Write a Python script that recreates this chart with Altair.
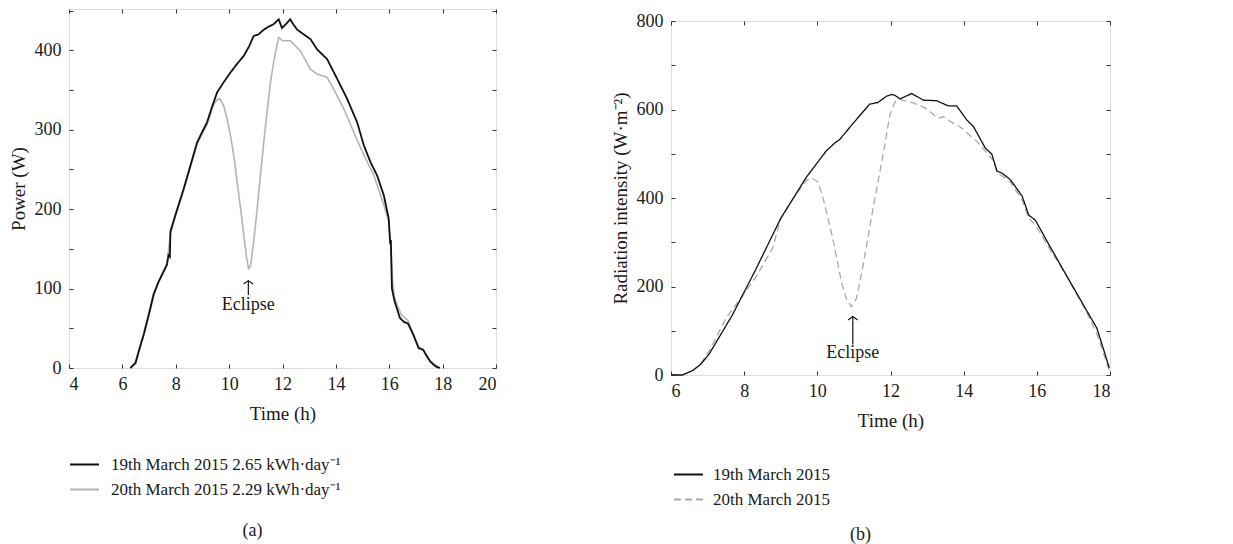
import altair as alt
import pandas as pd

FONT = "Liberation Serif"
TXT = "#1a1a1a"

# ---------------- Panel (a): PV power ----------------
a_series = ["19th March 2015 2.65 kWh·day⁻¹", "20th March 2015 2.29 kWh·day⁻¹"]
a_colors = ["#111111", "#b4b4b4"]

a19_t = [6.30, 6.49, 6.65, 6.80, 7.00, 7.17, 7.35, 7.48, 7.60, 7.67, 7.73, 7.78, 7.80, 7.98, 8.15,
         8.30, 8.55, 8.80, 9.00, 9.17, 9.35, 9.55, 9.80, 10.05, 10.30, 10.55, 10.75, 10.92, 11.10,
         11.30, 11.50, 11.67, 11.86, 11.98, 12.10, 12.29, 12.40, 12.55, 12.80, 13.05, 13.30, 13.67,
         14.05, 14.42, 14.80, 15.05, 15.30, 15.55, 15.80, 15.98, 16.03, 16.06, 16.10, 16.20, 16.40,
         16.55, 16.70, 16.90, 17.10, 17.27, 17.40, 17.54, 17.70, 17.80, 17.90]
a19_v = [0, 6, 25, 42, 68, 92, 108, 117, 125, 130, 142, 140, 172, 192, 210,
         226, 255, 284, 298, 309, 328, 347, 360, 372, 383, 393, 405, 418, 420,
         426, 430, 433, 439, 428, 432, 439, 433, 426, 420, 414, 401, 389,
         364, 339, 309, 280, 259, 242, 217, 188, 159, 161, 100, 84, 63,
         58, 56, 42, 25, 23, 15, 8, 3, 1, 0]

a20_t = [6.30, 6.49, 6.80, 7.17, 7.48, 7.67, 7.80, 7.98, 8.30, 8.80, 9.17, 9.40, 9.55, 9.65, 9.80,
         9.95, 10.05, 10.20, 10.30, 10.45, 10.55, 10.65, 10.73, 10.80, 10.92, 11.05, 11.17, 11.30,
         11.42, 11.55, 11.67, 11.78, 11.86, 12.00, 12.30, 12.67, 13.05, 13.30, 13.67, 13.92, 14.30,
         14.67, 15.05, 15.42, 15.80, 15.98, 16.05, 16.12, 16.20, 16.45, 16.70, 16.90, 17.10, 17.27,
         17.54, 17.80, 17.90]
a20_v = [0, 8, 44, 95, 118, 132, 168, 190, 224, 282, 306, 330, 338, 339, 330,
         310, 293, 262, 234, 195, 167, 140, 125, 128, 159, 200, 242, 285,
         322, 360, 385, 405, 416, 412, 412, 399, 376, 370, 366, 351, 326,
         297, 268, 243, 205, 185, 160, 110, 88, 67, 60, 43, 27, 23,
         9, 2, 0]

# ---------------- Panel (b): radiation intensity ----------------
b_series = ["19th March 2015", "20th March 2015"]
b_colors = ["#111111", "#9fb0a0"]

b19_t = [6.0, 6.31, 6.59, 6.81, 7.04, 7.68, 8.32, 9.0, 9.7, 10.24, 10.47, 10.61, 10.98, 11.43, 11.66,
         11.89, 12.03, 12.12, 12.26, 12.58, 12.9, 13.26, 13.58, 13.81, 14.09, 14.27, 14.59, 14.77,
         14.91, 15.05, 15.28, 15.6, 15.78, 15.96, 16.28, 16.83, 17.38, 17.64, 17.84, 17.98]
b19_v = [0, 0, 10, 24, 47, 136, 239, 354, 447, 506, 524, 532, 569, 612, 616,
         630, 634, 632, 624, 636, 621, 620, 608, 608, 576, 561, 513, 499,
         461, 456, 441, 404, 361, 350, 302, 222, 143, 106, 54, 16]

b20_t = [6.0, 6.31, 6.55, 6.77, 7.04, 7.5, 7.96, 8.32, 8.78, 9.0, 9.35, 9.7, 9.85, 10.02, 10.15,
         10.43, 10.66, 10.79, 10.93, 11.07, 11.25, 11.53, 11.8, 11.98, 12.12, 12.26, 12.62, 12.94,
         13.31, 13.45, 13.63, 13.9, 14.36, 14.82, 14.91, 15.28, 15.6, 15.78, 15.96, 16.28, 16.83,
         17.38, 17.65, 17.98]
b20_v = [0, 0, 8, 21, 54, 128, 180, 221, 287, 354, 400, 440, 445, 436, 402,
         306, 210, 173, 154, 173, 247, 380, 499, 587, 617, 623, 615, 604,
         580, 584, 573, 561, 528, 484, 458, 436, 395, 354, 339, 295, 221,
         139, 91, 10]

# annotations: arrow x, arrow base y, arrow tip y, text y
a_eclipse = {"x": [10.72], "y0": [92], "y1": [110], "ty": [79], "label": ["Eclipse"]}
b_eclipse = {"x": [10.97], "y0": [69], "y1": [132], "ty": [50], "label": ["Eclipse"]}

ARROW = "M-1,0.7L0,0L1,0.7"


def axis_main(orient, values, title, label_pad, title_pad, show_every=None):
    kw = dict(orient=orient, values=values, title=title, domain=False, grid=False,
              tickSize=4, offset=-4, tickColor="#333", tickWidth=1,
              labelFont=FONT, labelFontSize=18, labelColor=TXT, labelPadding=label_pad,
              titleFont=FONT, titleFontSize=19, titleFontWeight="normal", titleColor=TXT,
              titlePadding=title_pad)
    if show_every:
        test = f"datum.value % {show_every} != 0"
        kw["labelExpr"] = f"{test} ? '' : datum.label"
        kw["labelFontSize"] = {"condition": {"test": test, "value": 0}, "value": 18}
    return alt.Axis(**kw)


def axis_mirror(orient, values):
    return alt.Axis(orient=orient, values=values, title=None, labels=False, domain=False,
                    grid=False, tickSize=4, offset=-4, tickColor="#333", tickWidth=1)


def panel(t_lists, v_lists, series, colors, dashes, widths, xdom, ydom, xvals, yvals,
          ylabel_every, ytitle, ann, legend_x, legend_y, label_offset, w, h, title, title_dx,
          title_off):
    frames = []
    for t, v, s in zip(t_lists, v_lists, series):
        frames.append(pd.DataFrame({"t": t, "v": v, "series": s}))
    xs = alt.Scale(domain=xdom, nice=False, zero=False)
    ys = alt.Scale(domain=ydom, nice=False, zero=False)
    cs = alt.Scale(domain=series, range=colors)
    ds = alt.Scale(domain=series, range=dashes)
    legend = alt.Legend(orient="none", legendX=legend_x, legendY=legend_y, title=None,
                        labelFont=FONT, labelFontSize=17, labelColor=TXT, symbolType="stroke",
                        symbolSize=841, symbolStrokeWidth=1.8, labelOffset=label_offset,
                        rowPadding=1, padding=0, direction="vertical", labelLimit=0)
    layers = []
    order = [1, 0]
    for k, i in enumerate(order):
        first = (k == 0)
        layers.append(
            alt.Chart(frames[i]).mark_line(strokeWidth=widths[i]).encode(
                x=alt.X("t:Q", scale=xs,
                        axis=axis_main("bottom", xvals, "Time (h)", 7, 11) if first else None),
                y=alt.Y("v:Q", scale=ys,
                        axis=axis_main("left", yvals, ytitle, 8, 6, ylabel_every) if first else None),
                color=alt.Color("series:N", scale=cs, legend=legend),
                strokeDash=alt.StrokeDash("series:N", scale=ds, legend=legend),
            )
        )
    layers.append(
        alt.Chart(frames[0]).mark_line(opacity=0).encode(
            x=alt.X("t:Q", scale=xs, axis=axis_mirror("top", xvals)),
            y=alt.Y("v:Q", scale=ys, axis=axis_mirror("right", yvals)),
        )
    )
    adf = pd.DataFrame(ann)
    layers.append(
        alt.Chart(adf).mark_rule(color="#111", strokeWidth=1.2).encode(
            x=alt.X("x:Q", scale=xs, axis=None),
            y=alt.Y("y0:Q", scale=ys, axis=None),
            y2="y1:Q",
        )
    )
    layers.append(
        alt.Chart(adf).mark_point(shape=ARROW, filled=False, size=90, color="#111",
                                  strokeWidth=1.2, opacity=1).encode(
            x=alt.X("x:Q", scale=xs, axis=None),
            y=alt.Y("y1:Q", scale=ys, axis=None),
        )
    )
    layers.append(
        alt.Chart(adf).mark_text(font=FONT, fontSize=18, color=TXT, align="center",
                                 baseline="middle").encode(
            x=alt.X("x:Q", scale=xs, axis=None),
            y=alt.Y("ty:Q", scale=ys, axis=None),
            text="label:N",
        )
    )
    return alt.layer(*layers).resolve_axis(x="independent", y="independent").properties(
        width=w, height=h,
        title=alt.TitleParams(text=title, orient="bottom", anchor="middle", dx=title_dx,
                              font=FONT, fontSize=18, fontWeight="normal", color=TXT,
                              offset=title_off),
    )


pa = panel([a19_t, a20_t], [a19_v, a20_v], a_series, a_colors, [[1, 0], [1, 0]], [1.8, 1.6],
           [4, 20], [0, 452], list(range(4, 21, 2)), list(range(0, 451, 50)), 100, "Power (W)",
           a_eclipse, 0, 440, 11, 427, 359, "(a)", -30, 24)
pb = panel([b19_t, b20_t], [b19_v, b20_v], b_series, b_colors, [[1, 0], [7, 4]], [1.3, 1.3],
           [6, 18], [0, 800], list(range(6, 19, 2)), list(range(0, 801, 100)), 200,
           "Radiation intensity (W·m⁻²)", b_eclipse, 2, 438, 9, 439, 354, "(b)", -30, 18)

# invisible 1px spacer row so that panel (b)'s top label does not push panel (a) down
spacer = alt.Chart(pd.DataFrame({"s": [0]})).mark_point(opacity=0, size=0).encode(
    x=alt.X("s:Q", axis=None), y=alt.Y("s:Q", axis=None)
).properties(width=1, height=1, view=alt.ViewBackground(stroke="transparent"))

pb_wrapped = alt.vconcat(spacer, pb, spacing=0).resolve_scale(
    color="independent", strokeDash="independent"
).resolve_legend(color="independent", strokeDash="independent")

chart = alt.hconcat(pa, pb_wrapped, spacing=113).resolve_scale(
    color="independent", strokeDash="independent"
).resolve_legend(color="independent", strokeDash="independent").properties(
    padding={"left": 0, "top": 0, "right": 0, "bottom": 0}
).configure_view(stroke="#333", strokeWidth=1).configure(background="white")

chart.save("out.html", embed_options={"renderer": "svg", "actions": False})
